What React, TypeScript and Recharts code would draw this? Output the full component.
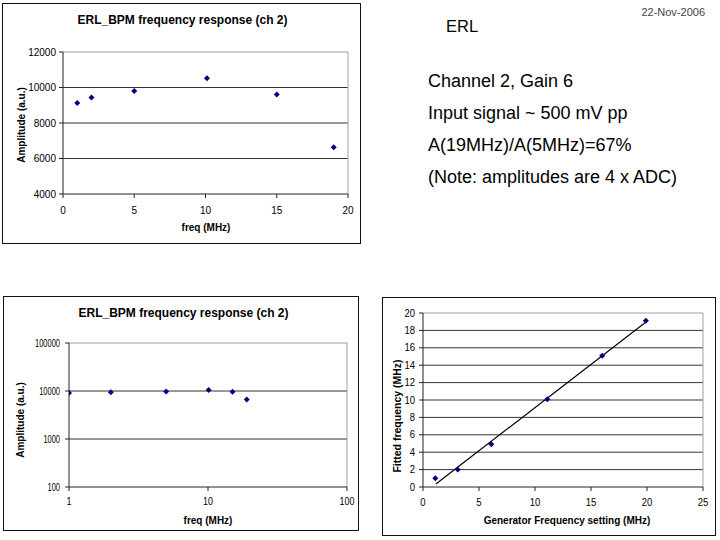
import React from 'react';
import { ScatterChart, Scatter, XAxis, YAxis, ReferenceLine } from 'recharts';

const FONT = '"Liberation Sans", Arial, Helvetica, sans-serif';

// Amplitude vs frequency (channel 2)
const freqMHz = [1, 2, 5, 10.1, 15, 19];
const amplitude = [9130, 9430, 9800, 10520, 9600, 6640];
const linXTicks = [0, 5, 10, 15, 20];
const linYTicks = [4000, 6000, 8000, 10000, 12000];
const logXTicks = [1, 10, 100];
const logYTicks = [100, 1000, 10000, 100000];

// Fitted vs generator frequency
const genFreq = [1.1, 3.1, 6.1, 11.1, 16.0, 19.9];
const fitFreq = [1.0, 2.0, 4.9, 10.1, 15.1, 19.1];
const genTicks = [0, 5, 10, 15, 20, 25];
const fitTicks = [0, 2, 4, 6, 8, 10, 12, 14, 16, 18, 20];
const trendGen = [1.15, 19.85];
const trendFit = [0.35, 18.9];

const titleText = 'ERL_BPM frequency response (ch 2)';
const noteLines = [
  'Channel 2, Gain 6',
  'Input signal ~ 500 mV pp',
  'A(19MHz)/A(5MHz)=67%',
  '(Note: amplitudes are 4 x ADC)',
];

const ampData = freqMHz.map((x, i) => ({ x, y: amplitude[i] }));
const fitData = genFreq.map((x, i) => ({ x, y: fitFreq[i] }));

const GRID = '#333';
const BORDER = '#a0a0a0';
const AXIS = '#222';

const Diamond = (props: any) => {
  const { cx, cy } = props;
  if (cx == null || cy == null) return null;
  const r = 3;
  return (
    <polygon
      points={`${cx},${cy - r} ${cx + r},${cy} ${cx},${cy + r} ${cx - r},${cy}`}
      fill="#000080"
    />
  );
};

const makeTick = (sx: number, anchor: 'end' | 'middle', dyv: string, fs = 10) => (props: any) => {
  const { x, y, payload } = props;
  return (
    <text
      x={x}
      y={y}
      dy={dyv}
      textAnchor={anchor}
      fontSize={fs}
      fontFamily={FONT}
      fill="#000"
      transform={`translate(${x},${y}) scale(${sx},1) translate(${-x},${-y})`}
    >
      {payload.value}
    </text>
  );
};

const Box = ({ left, top, width, height, children }: any) => (
  <div
    style={{
      position: 'absolute',
      left,
      top,
      width,
      height,
      border: '1px solid #111',
      boxSizing: 'border-box',
      background: '#fff',
    }}
  >
    {children}
  </div>
);

const axisCommon = {
  stroke: AXIS,
  tickSize: 4,
  allowDataOverflow: true,
  axisLine: { stroke: AXIS },
  tickLine: { stroke: AXIS },
};

export default function App() {
  return (
    <div
      style={{
        position: 'absolute',
        left: 0,
        top: 0,
        width: 720,
        height: 540,
        background: '#fff',
        fontFamily: FONT,
        overflow: 'hidden',
      }}
    >
      {/* Top-left: linear amplitude chart */}
      <Box left={2} top={3} width={359} height={241}>
        <ScatterChart width={357} height={239} margin={{ top: 48, right: 12, bottom: 19, left: 0 }}>
          <XAxis
            {...axisCommon}
            type="number"
            dataKey="x"
            domain={[0, 20]}
            ticks={linXTicks}
            interval={0}
            height={30}
            tickMargin={9}
            tick={makeTick(1, 'middle', '0.71em')}
          />
          <YAxis
            {...axisCommon}
            type="number"
            dataKey="y"
            domain={[4000, 12000]}
            ticks={linYTicks}
            interval={0}
            width={60}
            tickMargin={3}
            tick={makeTick(1, 'end', '0.355em')}
          />
          {linYTicks.slice(1, -1).map((v) => (
            <ReferenceLine key={v} y={v} stroke={GRID} />
          ))}
          <ReferenceLine y={12000} stroke={BORDER} />
          <ReferenceLine x={20} stroke={BORDER} />
          <Scatter data={ampData} shape={Diamond} isAnimationActive={false} />
        </ScatterChart>
      </Box>

      {/* Bottom-left: log-log amplitude chart */}
      <Box left={3} top={296} width={356} height={235}>
        <ScatterChart width={354} height={233} margin={{ top: 46, right: 11, bottom: 13, left: 0 }}>
          <XAxis
            {...axisCommon}
            type="number"
            dataKey="x"
            scale="log"
            domain={[1, 100]}
            ticks={logXTicks}
            interval={0}
            height={30}
            tickMargin={7}
            tick={makeTick(0.85, 'middle', '0.71em', 10.5)}
          />
          <YAxis
            {...axisCommon}
            type="number"
            dataKey="y"
            scale="log"
            domain={[100, 100000]}
            ticks={logYTicks}
            interval={0}
            width={65}
            tickMargin={5}
            tick={makeTick(0.68, 'end', '0.355em', 11)}
          />
          {logYTicks.slice(1, -1).map((v) => (
            <ReferenceLine key={v} y={v} stroke={GRID} />
          ))}
          <ReferenceLine y={100000} stroke={BORDER} />
          <ReferenceLine x={100} stroke={BORDER} />
          <Scatter data={ampData} shape={Diamond} isAnimationActive={false} />
        </ScatterChart>
      </Box>

      {/* Bottom-right: fitted vs generator frequency */}
      <Box left={382} top={297} width={334} height={239}>
        <ScatterChart width={332} height={237} margin={{ top: 15, right: 12, bottom: 18, left: 0 }}>
          <XAxis
            {...axisCommon}
            type="number"
            dataKey="x"
            domain={[0, 25]}
            ticks={genTicks}
            interval={0}
            height={30}
            tickMargin={8}
            tick={makeTick(0.95, 'middle', '0.71em')}
          />
          <YAxis
            {...axisCommon}
            type="number"
            dataKey="y"
            domain={[0, 20]}
            ticks={fitTicks}
            interval={0}
            width={40}
            tickMargin={4}
            tick={makeTick(0.95, 'end', '0.355em')}
          />
          {fitTicks.slice(1, -1).map((v) => (
            <ReferenceLine key={v} y={v} stroke={GRID} />
          ))}
          <ReferenceLine y={20} stroke={BORDER} />
          <ReferenceLine x={25} stroke={BORDER} />
          <ReferenceLine
            segment={[
              { x: trendGen[0], y: trendFit[0] },
              { x: trendGen[1], y: trendFit[1] },
            ]}
            stroke="#000"
            strokeWidth={1.2}
          />
          <Scatter data={fitData} shape={Diamond} isAnimationActive={false} />
        </ScatterChart>
      </Box>

      {/* Titles, axis labels and notes */}
      <svg
        width={720}
        height={540}
        style={{ position: 'absolute', left: 0, top: 0, pointerEvents: 'none' }}
        fontFamily={FONT}
      >
        <text x={182.5} y={20} textAnchor="middle" dominantBaseline="central" fontSize={12} fontWeight="bold">
          {titleText}
        </text>
        <text x={206} y={227} textAnchor="middle" dominantBaseline="central" fontSize={10} fontWeight="bold">
          freq (MHz)
        </text>
        <text
          x={21}
          y={125}
          textAnchor="middle"
          dominantBaseline="central"
          fontSize={10}
          fontWeight="bold"
          transform="rotate(-90 21 125)"
        >
          Amplitude (a.u.)
        </text>

        <text x={183.5} y={313} textAnchor="middle" dominantBaseline="central" fontSize={12} fontWeight="bold">
          {titleText}
        </text>
        <text x={208} y={520} textAnchor="middle" dominantBaseline="central" fontSize={10} fontWeight="bold">
          freq (MHz)
        </text>
        <text
          x={20}
          y={420}
          textAnchor="middle"
          dominantBaseline="central"
          fontSize={10}
          fontWeight="bold"
          transform="rotate(-90 20 420)"
        >
          Amplitude (a.u.)
        </text>

        <text x={567} y={520} textAnchor="middle" dominantBaseline="central" fontSize={10} fontWeight="bold">
          Generator Frequency setting (MHz)
        </text>
        <text
          x={397}
          y={416}
          textAnchor="middle"
          dominantBaseline="central"
          fontSize={10.5}
          fontWeight="bold"
          transform="rotate(-90 397 416)"
        >
          Fitted frequency (MHz)
        </text>

        <text x={705} y={16} textAnchor="end" fontSize={11} fill="#444">
          22-Nov-2006
        </text>
        <text x={446} y={32} fontSize={16.5} fill="#000">
          ERL
        </text>
        {noteLines.map((t, i) => (
          <text key={t} x={428} y={87 + i * 32} fontSize={18} fill="#000">
            {t}
          </text>
        ))}
      </svg>
    </div>
  );
}
